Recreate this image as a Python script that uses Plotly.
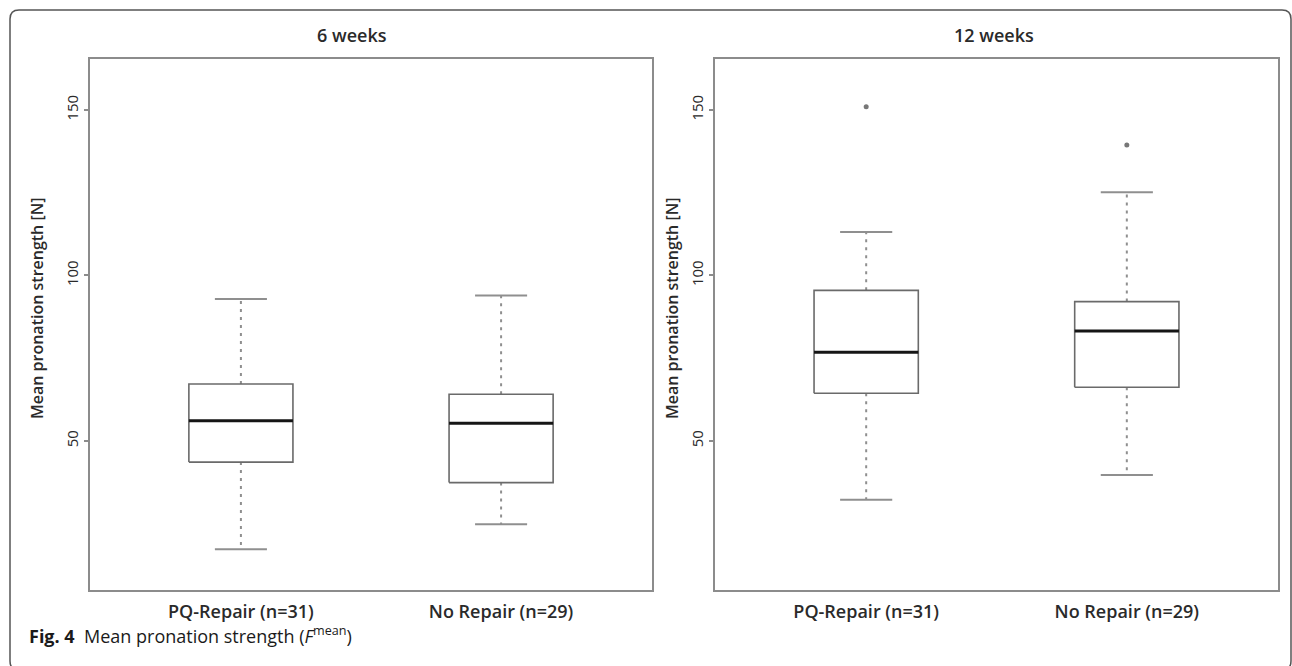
import plotly.graph_objects as go

W, H = 1292, 666

# ---- data ----
panels = ["6 weeks", "12 weeks"]
groups = ["PQ-Repair (n=31)", "No Repair (n=29)"]

w6_lower = [17.3, 24.8]
w6_q1 = [43.6, 37.4]
w6_median = [56.1, 55.3]
w6_q3 = [67.2, 64.1]
w6_upper = [92.9, 93.9]
w6_outliers = [[], []]

w12_lower = [32.2, 39.7]
w12_q1 = [64.4, 66.2]
w12_median = [76.8, 83.2]
w12_q3 = [95.5, 92.1]
w12_upper = [113.1, 125.1]
w12_outliers = [[151.0], [139.4]]

y_ticks = [50, 100, 150]
y_range = [5.1, 165.4]
x_range = [0.42, 2.58]

y_title = "Mean pronation strength [N]"
caption = "<b>Fig. 4</b>  Mean pronation strength (<i>F</i><sup>mean</sup>)"

# ---- styling ----
BOX_C = "#6a6a6a"
MED_C = "#151515"
WH_C = "#8f8f8f"
FRAME_C = "#8c8c8c"
TXT_C = "#2a2a2a"
FONT = "Open Sans"
HALF = 0.2
CAP = 0.1


def px(x):
    return x / W


def py(y):
    return 1 - y / H


fig = go.Figure()

panel_data = [
    (w6_lower, w6_q1, w6_median, w6_q3, w6_upper, w6_outliers),
    (w12_lower, w12_q1, w12_median, w12_q3, w12_upper, w12_outliers),
]

for p, (lo, q1, md, q3, up, outs) in enumerate(panel_data):
    xa = "x" if p == 0 else "x2"
    ya = "y" if p == 0 else "y2"
    for i in range(len(groups)):
        c = i + 1
        # whiskers (dotted)
        fig.add_trace(go.Scatter(
            x=[c, c, None, c, c], y=[q3[i], up[i], None, q1[i], lo[i]],
            mode="lines", line=dict(color=WH_C, width=2, dash="3px,5px"),
            xaxis=xa, yaxis=ya, showlegend=False, hoverinfo="skip"))
        # caps
        fig.add_trace(go.Scatter(
            x=[c - CAP, c + CAP, None, c - CAP, c + CAP],
            y=[up[i], up[i], None, lo[i], lo[i]],
            mode="lines", line=dict(color=WH_C, width=2),
            xaxis=xa, yaxis=ya, showlegend=False, hoverinfo="skip"))
        # box
        fig.add_trace(go.Scatter(
            x=[c - HALF, c + HALF, c + HALF, c - HALF, c - HALF],
            y=[q1[i], q1[i], q3[i], q3[i], q1[i]],
            mode="lines", line=dict(color=BOX_C, width=1.6),
            fill="toself", fillcolor="white",
            xaxis=xa, yaxis=ya, showlegend=False, hoverinfo="skip"))
        # median
        fig.add_trace(go.Scatter(
            x=[c - HALF, c + HALF], y=[md[i], md[i]],
            mode="lines", line=dict(color=MED_C, width=3),
            xaxis=xa, yaxis=ya, showlegend=False, hoverinfo="skip"))
        # outliers
        if outs[i]:
            fig.add_trace(go.Scatter(
                x=[c] * len(outs[i]), y=outs[i], mode="markers",
                marker=dict(color="#777777", size=5),
                xaxis=xa, yaxis=ya, showlegend=False, hoverinfo="skip"))

ax_common = dict(showgrid=False, zeroline=False, showline=True, mirror=True,
                 linecolor=FRAME_C, linewidth=2)

xcommon = dict(ax_common, range=x_range, tickvals=[1, 2], ticktext=groups,
               ticks="", tickfont=dict(family=FONT, size=18, color=TXT_C, weight=600),
               ticklabelstandoff=5)
ycommon = dict(ax_common, range=y_range, tickvals=y_ticks,
               ticktext=[str(t) for t in y_ticks], ticks="outside", ticklen=4,
               tickcolor=FRAME_C, tickwidth=1.5, tickangle=-90,
               tickfont=dict(family=FONT, size=15, color=TXT_C, weight=500))

fig.update_layout(
    width=W, height=H, margin=dict(l=0, r=0, t=0, b=0),
    paper_bgcolor="white", plot_bgcolor="white",
    xaxis=dict(xcommon, domain=[px(90), px(652)], anchor="y"),
    yaxis=dict(ycommon, domain=[py(589.5), py(59)], anchor="x"),
    xaxis2=dict(xcommon, domain=[px(715), px(1278)], anchor="y2"),
    yaxis2=dict(ycommon, domain=[py(589.5), py(59)], anchor="x2"),
)

ann = []
for t, xc in zip(panels, [352, 994]):
    ann.append(dict(text=t, x=px(xc), y=py(35), xref="paper", yref="paper",
                    showarrow=False, xanchor="center", yanchor="middle",
                    font=dict(family=FONT, size=18, color=TXT_C, weight=600)))
for xc in [37, 672]:
    ann.append(dict(text=y_title, x=px(xc), y=py(308), xref="paper", yref="paper",
                    showarrow=False, textangle=-90, xanchor="center", yanchor="middle",
                    font=dict(family=FONT, size=16, color=TXT_C, weight=600)))
ann.append(dict(text=caption, x=px(27), y=py(635), xref="paper", yref="paper",
                showarrow=False, xanchor="left", yanchor="middle",
                font=dict(family="Open Sans", size=18, color="#1a1a1a")))
fig.update_layout(annotations=ann)

# rounded outer border (bottom edge just below the visible page)
x0, x1, y0, y1, r = px(10), px(1291), py(10), py(670), 9
rx, ry = r / W, r / H
path = (f"M {x0},{y1 + ry} L {x0},{y0 - ry} Q {x0},{y0} {x0 + rx},{y0} "
        f"L {x1 - rx},{y0} Q {x1},{y0} {x1},{y0 - ry} L {x1},{y1 + ry} "
        f"Q {x1},{y1} {x1 - rx},{y1} L {x0 + rx},{y1} Q {x0},{y1} {x0},{y1 + ry} Z")
fig.add_shape(type="path", path=path, xref="paper", yref="paper",
              line=dict(color="#555555", width=1.5))

fig.write_html(
    "out.html",
    config={"displayModeBar": False},
    post_script="document.body.style.margin='0px';document.body.style.padding='0px';"
                "document.body.style.overflow='hidden';",
)
